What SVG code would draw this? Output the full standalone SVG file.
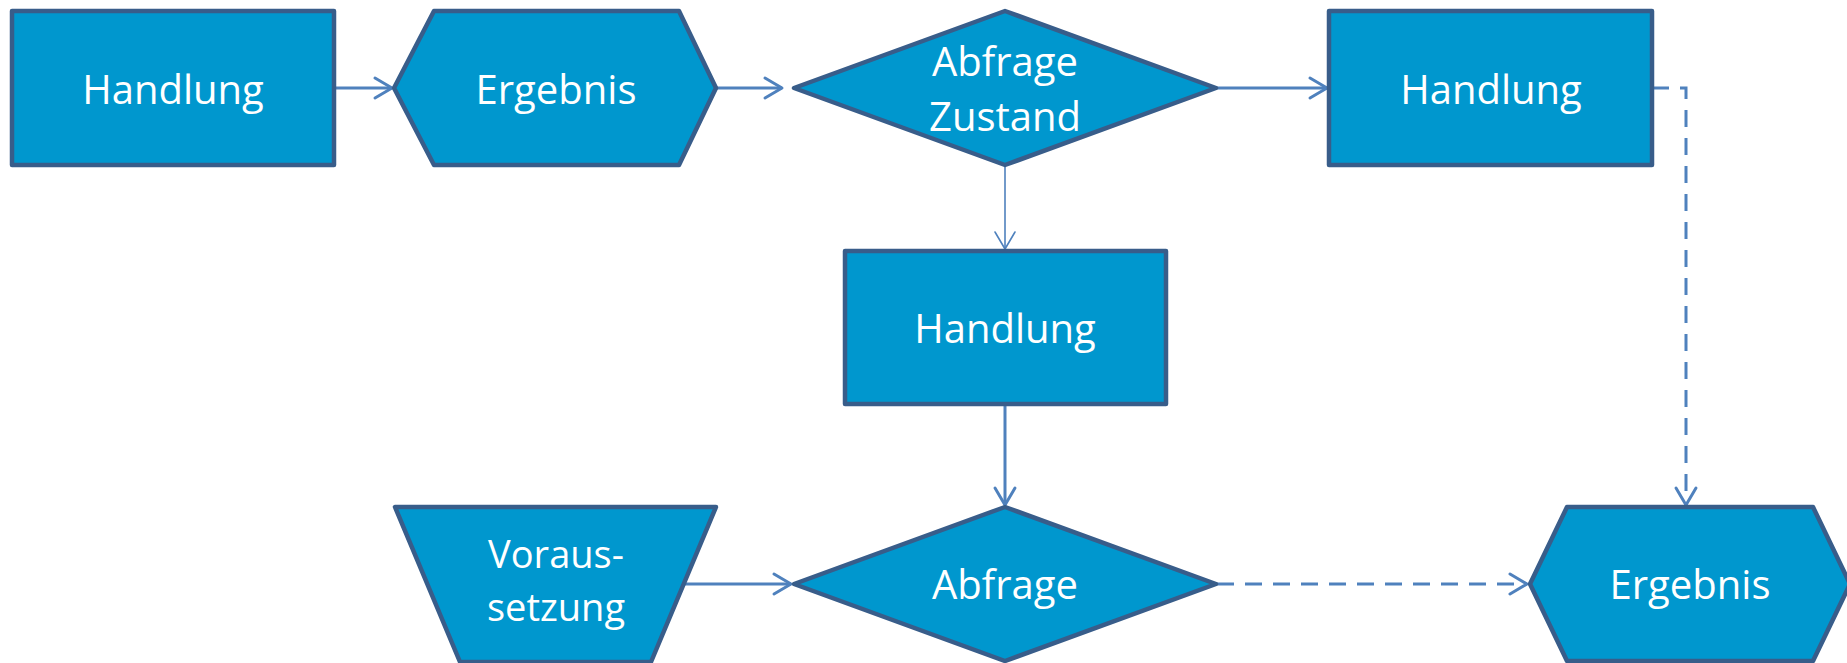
<svg xmlns="http://www.w3.org/2000/svg" width="1847" height="663" viewBox="0 0 1847 663">
<style>
.shape{fill:#0097CE;stroke:#385D8A;stroke-width:4.5;stroke-linejoin:round}
.lbl{font-family:"Open Sans","Liberation Sans",sans-serif;font-size:40px;fill:#FFFFFF;text-anchor:middle}
.sm{font-size:38px}
.con{fill:none;stroke:#4F81BD;stroke-width:3}
.thin{stroke-width:1.6}
.dash{stroke-dasharray:17 11}
</style>
<defs>
<marker id="ah" markerUnits="userSpaceOnUse" viewBox="-22 -12 24 24" refX="0" refY="0" markerWidth="24" markerHeight="24" orient="auto" overflow="visible">
<path d="M-17,-10 L0,0 L-17,10" fill="none" stroke="#4F81BD" stroke-width="3" stroke-linecap="round" stroke-linejoin="round"/>
</marker>
<marker id="ahThin" markerUnits="userSpaceOnUse" viewBox="-22 -12 24 24" refX="0" refY="0" markerWidth="24" markerHeight="24" orient="auto" overflow="visible">
<path d="M-17,-10 L0,0 L-17,10" fill="none" stroke="#4F81BD" stroke-width="1.6" stroke-linecap="round" stroke-linejoin="round"/>
</marker>
</defs>
<g id="connectors">
<path class="con" d="M334,88 L392,88" marker-end="url(#ah)"/>
<path class="con" d="M716,88 L782,88" marker-end="url(#ah)"/>
<path class="con" d="M1216,88 L1327,88" marker-end="url(#ah)"/>
<path class="con dash" d="M1652,88 L1686,88 L1686,505" marker-end="url(#ah)"/>
<path class="con thin" d="M1005,165 L1005,249" marker-end="url(#ahThin)"/>
<path class="con" d="M1005,404 L1005,505" marker-end="url(#ah)"/>
<path class="con" d="M684,584 L791,584" marker-end="url(#ah)"/>
<path class="con dash" d="M1217,584 L1527,584" marker-end="url(#ah)"/>
</g>
<g id="handlung1">
<rect class="shape" x="12" y="11" width="322" height="154"/>
<text class="lbl" x="173" y="104">Handlung</text>
</g>
<g id="ergebnis1">
<polygon class="shape" points="394,88 434,11 679,11 716,88 679,165 434,165"/>
<text class="lbl" x="556" y="104">Ergebnis</text>
</g>
<g id="abfrageZustand">
<polygon class="shape" points="794,88 1005,11 1216,88 1005,165"/>
<text class="lbl" x="1005" y="76">Abfrage</text>
<text class="lbl" x="1005" y="131">Zustand</text>
</g>
<g id="handlung2">
<rect class="shape" x="1329" y="11" width="323" height="154"/>
<text class="lbl" x="1491" y="104">Handlung</text>
</g>
<g id="handlung3">
<rect class="shape" x="845" y="251" width="321" height="153"/>
<text class="lbl" x="1005" y="343">Handlung</text>
</g>
<g id="voraussetzung">
<polygon class="shape" points="395,507 716,507 651,662 460,662"/>
<text class="lbl sm" x="556" y="568">Voraus-</text>
<text class="lbl sm" x="556" y="621">setzung</text>
</g>
<g id="abfrage">
<polygon class="shape" points="794,584 1005,507 1216,584 1005,661"/>
<text class="lbl" x="1005" y="599">Abfrage</text>
</g>
<g id="ergebnis2">
<polygon class="shape" points="1530,584 1567,507 1813,507 1850,584 1813,661 1567,661"/>
<text class="lbl" x="1690" y="599">Ergebnis</text>
</g>
</svg>
